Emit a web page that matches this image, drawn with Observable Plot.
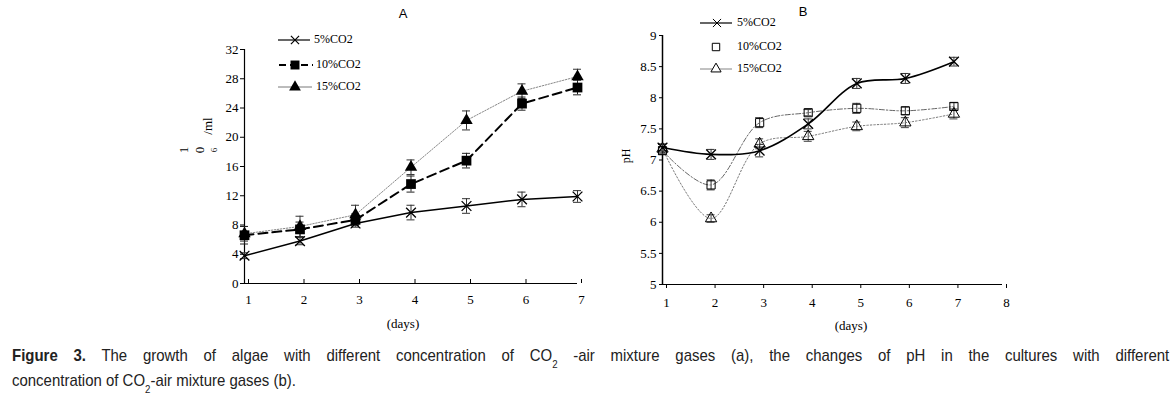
<!DOCTYPE html>
<html>
<head>
<meta charset="utf-8">
<script src="https://cdn.jsdelivr.net/npm/d3@7"></script>
<script src="https://cdn.jsdelivr.net/npm/@observablehq/plot@0.6"></script>
<style>
  html, body { margin: 0; padding: 0; background: #fff; }
  #page { position: relative; width: 1175px; height: 397px; overflow: hidden; }
  #chartA { position: absolute; left: 0; top: 0; }
  #chartB { position: absolute; left: 600px; top: 0; }
  #overlay { position: absolute; left: 0; top: 0; pointer-events: none; }
  .cap { position: absolute; left: 12px; width: 1315px; white-space: nowrap;
    font-family: "Liberation Sans", Arial, sans-serif;
    font-size: 17px; line-height: 19px; color: #222;
    transform: scaleX(0.88); transform-origin: 0 0; }
  #cap1 { top: 346px; text-align: justify; text-align-last: justify; }
  #cap2 { top: 371px; text-align: left; }
  .cap b { font-weight: bold; }
  .cap sub { font-size: 11px; vertical-align: baseline; position: relative; top: 7px; line-height: 10px; }
</style>
</head>
<body>
<div id="page">
  <div id="chartA"></div>
  <div id="chartB"></div>
  <svg id="overlay" width="1175" height="340"></svg>
  <div class="cap" id="cap1"><b>Figure 3.</b> The growth of algae with different concentration of CO<sub>2</sub> -air mixture gases (a), the changes of pH in the cultures with different</div>
  <div class="cap" id="cap2">concentration of CO<sub>2</sub>-air mixture gases (b).</div>
</div>
<script>
// ---- data ----
const days = [1, 2, 3, 4, 5, 6, 7];
const seriesNames = ["5%CO2", "10%CO2", "15%CO2"];

// Panel A: cell density (10^6/ml)
const growth5  = [3.8, 5.8, 8.2, 9.7, 10.6, 11.5, 11.9];
const growth10 = [6.6, 7.4, 8.7, 13.6, 16.8, 24.6, 26.8];
const growth15 = [6.8, 7.8, 9.4, 15.9, 22.3, 26.3, 28.3];
const growthErr5  = [0.4, 0.5, 0.5, 1.0, 1.0, 1.0, 0.8];
const growthErr10 = [1.2, 1.0, 0.8, 1.1, 1.0, 0.9, 1.0];
const growthErr15 = [1.0, 1.4, 1.3, 1.0, 1.3, 1.0, 1.0];
const growthTicksY = [0, 4, 8, 12, 16, 20, 24, 28, 32];

// Panel B: pH
const ph5  = [7.2, 7.09, 7.15, 7.58, 8.23, 8.31, 8.58];
const ph10 = [7.15, 6.6, 7.6, 7.76, 7.83, 7.79, 7.86];
const ph15 = [7.18, 6.06, 7.26, 7.38, 7.54, 7.6, 7.74];
const phErr5  = [0.05, 0.08, 0.1, 0.08, 0.08, 0.08, 0.07];
const phErr10 = [0.06, 0.08, 0.08, 0.05, 0.08, 0.06, 0.06];
const phErr15 = [0.08, 0.06, 0.08, 0.08, 0.07, 0.08, 0.08];
const phTicksY = [5, 5.5, 6, 6.5, 7, 7.5, 8, 8.5, 9];
const phTicksX = [1, 2, 3, 4, 5, 6, 7, 8];

function rows(vals, errs, name) {
  return days.map((d, i) => ({day: d, v: vals[i], e: errs[i], s: name}));
}
const A5 = rows(growth5, growthErr5, seriesNames[0]);
const A10 = rows(growth10, growthErr10, seriesNames[1]);
const A15 = rows(growth15, growthErr15, seriesNames[2]);
const B5 = rows(ph5, phErr5, seriesNames[0]);
const B10 = rows(ph10, phErr10, seriesNames[1]);
const B15 = rows(ph15, phErr15, seriesNames[2]);

function errMarks(data, color) {
  return [
    Plot.ruleX(data, {x: "day", y1: d => d.v - d.e, y2: d => d.v + d.e, stroke: color, strokeWidth: 1}),
    Plot.ruleY(data, {x1: "day", x2: "day", y: d => d.v + d.e, insetLeft: -4, insetRight: -4, stroke: color, strokeWidth: 1}),
    Plot.ruleY(data, {x1: "day", x2: "day", y: d => d.v - d.e, insetLeft: -4, insetRight: -4, stroke: color, strokeWidth: 1})
  ];
}

const serif = "'Liberation Serif', 'DejaVu Serif', serif";
const sans = "'Liberation Sans', 'DejaVu Sans', sans-serif";
const fontStyle = {fontFamily: serif, fontSize: "13px", color: "#000", background: "transparent", overflow: "visible"};

// ---- Panel A ----
const plotA = Plot.plot({
  width: 600, height: 340,
  marginLeft: 244, marginRight: 23, marginTop: 49, marginBottom: 57,
  style: fontStyle,
  x: {domain: [1, 7]},
  y: {domain: [0, 32]},
  marks: [
    Plot.axisX({ticks: days, tickFormat: d => d, tickSize: -4, tickPadding: 15, dx: 4, label: null, fontFamily: serif, fontSize: 13}),
    Plot.axisY({ticks: growthTicksY, tickSize: 4, tickPadding: 2, label: null, fontFamily: serif, fontSize: 13}),
    Plot.ruleY([0], {stroke: "#000", strokeWidth: 1.2}),
    Plot.ruleX([1], {stroke: "#000", strokeWidth: 1.2}),
    ...errMarks(A15, "#333"),
    ...errMarks(A10, "#222"),
    ...errMarks(A5, "#333"),
    Plot.line(A15, {x: "day", y: "v", stroke: "#888", strokeWidth: 1, strokeDasharray: "1.5,1.5"}),
    Plot.line(A10, {x: "day", y: "v", stroke: "#000", strokeWidth: 2, strokeDasharray: "9,5"}),
    Plot.line(A5, {x: "day", y: "v", stroke: "#000", strokeWidth: 1.5}),
    Plot.dot(A15, {x: "day", y: "v", symbol: "triangle", r: 4.6, fill: "#000", stroke: "none"}),
    Plot.dot(A10, {x: "day", y: "v", symbol: "square", r: 5.5, fill: "#000", stroke: "none"}),
    Plot.dot(A5, {x: "day", y: "v", symbol: "times", r: 4.5, stroke: "#000", strokeWidth: 1.3, fill: "none"})
  ]
});
document.getElementById("chartA").appendChild(plotA);

// ---- Panel B ----
const plotB = Plot.plot({
  width: 575, height: 340,
  marginLeft: 62, marginRight: 173, marginTop: 35, marginBottom: 56,
  style: fontStyle,
  x: {domain: [1, 8]},
  y: {domain: [5, 9]},
  marks: [
    Plot.axisX({ticks: phTicksX, tickFormat: d => d, tickSize: 4, tickPadding: 9, dx: 4, label: null, fontFamily: serif, fontSize: 13}),
    Plot.axisY({ticks: phTicksY, tickFormat: d => String(d), tickSize: 3, tickPadding: 3, label: null, fontFamily: serif, fontSize: 13}),
    Plot.ruleY([5], {stroke: "#000", strokeWidth: 1.2}),
    Plot.ruleX([1], {stroke: "#000", strokeWidth: 1.5}),
    ...errMarks(B15, "#444"),
    ...errMarks(B10, "#333"),
    ...errMarks(B5, "#333"),
    Plot.line(B15, {x: "day", y: "v", curve: "catmull-rom", stroke: "#777", strokeWidth: 1, strokeDasharray: "1.5,2"}),
    Plot.line(B10, {x: "day", y: "v", curve: "catmull-rom", stroke: "#666", strokeWidth: 1, strokeDasharray: "5,2,1.5,2"}),
    Plot.line(B5, {x: "day", y: "v", curve: "catmull-rom", stroke: "#000", strokeWidth: 1.6}),
    Plot.dot(B15, {x: "day", y: "v", symbol: "triangle", r: 4.2, fill: "#fff", fillOpacity: 0, stroke: "#000", strokeWidth: 1}),
    Plot.dot(B10, {x: "day", y: "v", symbol: "square", r: 4.6, fill: "none", stroke: "#000", strokeWidth: 1}),
    Plot.dot(B5, {x: "day", y: "v", symbol: "times", r: 4.5, stroke: "#000", strokeWidth: 1.3, fill: "none"})
  ]
});
document.getElementById("chartB").appendChild(plotB);

// ---- overlay: titles, axis labels, legends ----
const ov = d3.select("#overlay");
function txt(x, y, s, opts = {}) {
  const t = ov.append("text").attr("x", x).attr("y", y).text(s)
    .attr("font-family", opts.family || serif).attr("font-size", opts.size || 13)
    .attr("text-anchor", opts.anchor || "start").attr("dominant-baseline", "middle").attr("fill", "#000");
  if (opts.rotate) t.attr("transform", `rotate(${opts.rotate},${x},${y})`);
  return t;
}
txt(403, 15, "A", {family: sans, anchor: "middle", size: 13});
txt(803, 13, "B", {family: sans, anchor: "middle", size: 13});
txt(403, 325, "(days)", {anchor: "middle", size: 13});
txt(851, 327, "(days)", {anchor: "middle", size: 13});
txt(627, 156, "pH", {anchor: "middle", size: 12, rotate: -90});
// A y label: 10^6/ml
txt(185, 150, "1", {anchor: "middle", size: 13, rotate: -90});
txt(201, 150, "0", {anchor: "middle", size: 13, rotate: -90});
txt(215, 150, "6", {anchor: "middle", size: 9, rotate: -90});
txt(209, 126, "/ml", {anchor: "middle", size: 13, rotate: -90});

const sym = (type, size) => d3.symbol().type(type).size(size)();
function legendRow(x0, x1, mx, y, label, tx, lineStyle, marker) {
  if (lineStyle) {
    ov.append("line").attr("x1", x0).attr("x2", x1).attr("y1", y).attr("y2", y)
      .attr("stroke", lineStyle.stroke).attr("stroke-width", lineStyle.width)
      .attr("stroke-dasharray", lineStyle.dash || null);
  }
  ov.append("path").attr("d", sym(marker.type, marker.size)).attr("transform", `translate(${mx},${y})`)
    .attr("fill", marker.fill).attr("stroke", marker.stroke).attr("stroke-width", marker.sw || 1);
  txt(tx, y, label, {size: 12});
}
// Legend A
legendRow(278, 310, 295, 40, seriesNames[0], 314, {stroke: "#000", width: 1.2}, {type: d3.symbolTimes, size: 45, fill: "none", stroke: "#000", sw: 1.2});
legendRow(279, 313, 295, 65, seriesNames[1], 316, {stroke: "#000", width: 2, dash: "7,4"}, {type: d3.symbolSquare, size: 80, fill: "#000", stroke: "none"});
legendRow(278, 312, 295, 87, seriesNames[2], 316, {stroke: "#555", width: 0.8}, {type: d3.symbolTriangle, size: 60, fill: "#000", stroke: "none"});
// Legend B
legendRow(700, 732, 717, 23, seriesNames[0], 737, {stroke: "#000", width: 1.2}, {type: d3.symbolTimes, size: 45, fill: "none", stroke: "#000", sw: 1});
legendRow(700, 732, 716, 47, seriesNames[1], 737, null, {type: d3.symbolSquare, size: 55, fill: "none", stroke: "#000"});
legendRow(700, 732, 716, 69, seriesNames[2], 737, {stroke: "#666", width: 0.8}, {type: d3.symbolTriangle, size: 45, fill: "#fff", stroke: "#000"});
</script>
</body>
</html>
